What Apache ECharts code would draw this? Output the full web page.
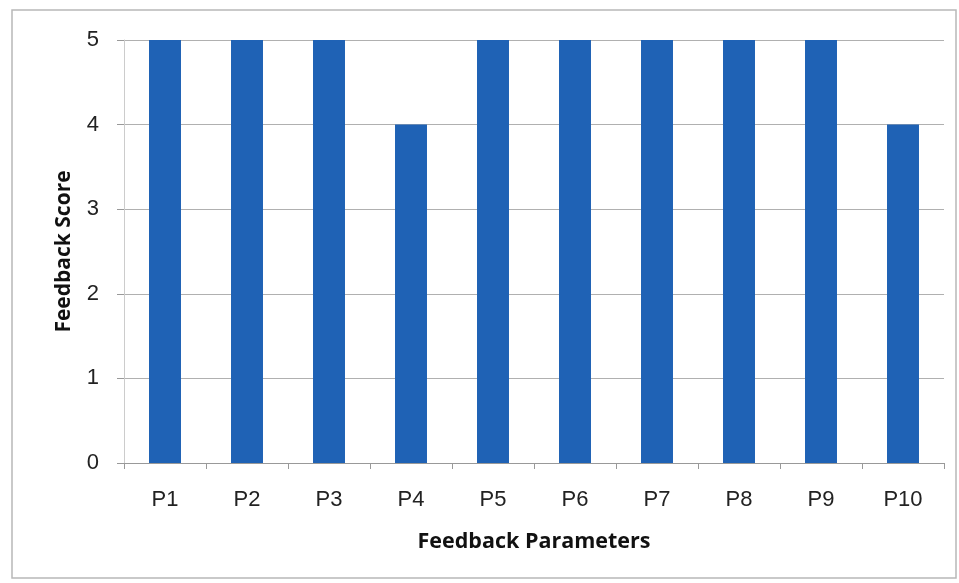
<!DOCTYPE html>
<html><head><meta charset="utf-8">
<script src="https://cdn.jsdelivr.net/npm/echarts@6/dist/echarts.min.js"></script>
<style>html,body{margin:0;padding:0;background:#fff}#c{width:959px;height:583px}</style>
</head><body><div id="c"></div>
<script>
const categories = ['P1','P2','P3','P4','P5','P6','P7','P8','P9','P10'];
const scores = [5,5,5,4,5,5,5,5,5,4];
const yTicks = [0,1,2,3,4,5];
const chart = echarts.init(document.getElementById('c'));
chart.setOption({
  animation:false,
  backgroundColor:'#fff',
  graphic:[{type:'rect',shape:{x:12,y:10,width:944,height:568},style:{fill:'none',stroke:'#b8b8b8',lineWidth:1.5}}],
  grid:{left:124,right:15,top:40,bottom:120,containLabel:false},
  xAxis:{type:'category',data:categories,
    name:'Feedback Parameters',nameLocation:'middle',nameGap:68,
    nameTextStyle:{fontFamily:'Open Sans',fontWeight:'bold',fontSize:21.5,color:'#111'},
    axisLine:{lineStyle:{color:'#999'}},
    axisTick:{show:true,length:6,lineStyle:{color:'#999'}},
    axisLabel:{fontFamily:'Liberation Sans',fontSize:22,color:'#222',margin:26}},
  yAxis:{type:'value',min:0,max:5,interval:1,
    name:'Feedback Score',nameLocation:'middle',nameGap:49,
    nameTextStyle:{fontFamily:'Open Sans',fontWeight:'bold',fontSize:21,color:'#111'},
    axisLine:{show:true,lineStyle:{color:'#ccc'}},
    axisTick:{show:true,length:7,lineStyle:{color:'#999'}},
    splitLine:{lineStyle:{color:'#b0b0b0'}},
    axisLabel:{fontFamily:'Liberation Sans',fontSize:22,color:'#222',margin:25,
      formatter:v=>yTicks.includes(v)?String(v):''}},
  series:[{type:'bar',data:scores,barWidth:'39%',itemStyle:{color:'#1F62B5'}}]
});
</script></body></html>
